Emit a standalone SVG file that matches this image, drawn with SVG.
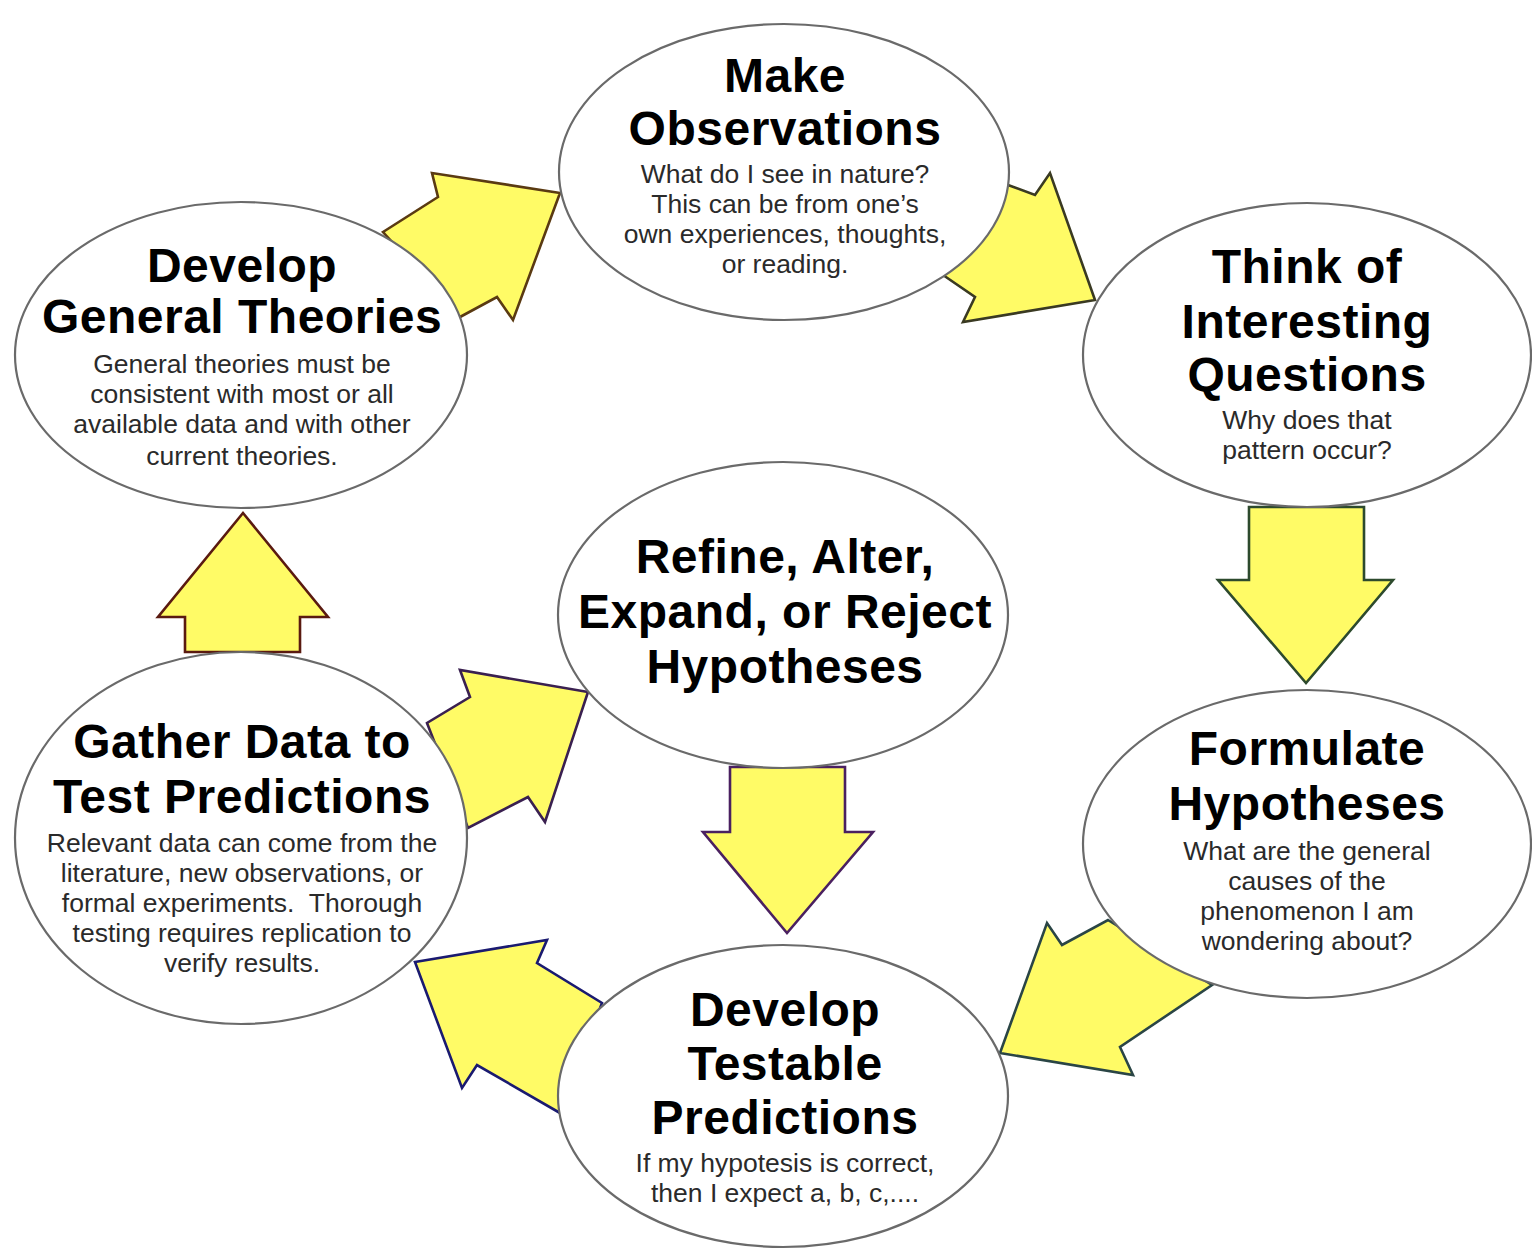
<svg xmlns="http://www.w3.org/2000/svg" width="1532" height="1250" viewBox="0 0 1532 1250">
<style>
.bg{fill:#ffffff}
.node ellipse{fill:#ffffff;stroke:#6a6a6a;stroke-width:2.2}
.t{font-family:"Liberation Sans",Arial,sans-serif;font-weight:bold;font-size:48px;fill:#000;text-anchor:middle;letter-spacing:0.5px}
.s{font-family:"Liberation Sans",Arial,sans-serif;font-size:26.5px;fill:#2a2a2a;text-anchor:middle}
.arr{fill:#FFFB66;stroke-width:2.6;stroke-linejoin:miter}
</style>
<rect class="bg" x="0" y="0" width="1532" height="1250"/>
<g id="connectors">
<polygon class="arr" stroke="#5a3a12" points="383,232 438,197 432,173 560,193 513,320 497,297 460,317"/>
<polygon class="arr" stroke="#3a3a22" points="1008,185 1035,195 1050,173 1095,300 963,322 975,297 943,275"/>
<polygon class="arr" stroke="#2d4a2d" points="1249,507 1364,507 1364,580 1393,580 1306,683 1218,580 1249,580"/>
<polygon class="arr" stroke="#2a4545" points="1108,920 1212,985 1120,1047 1133,1075 1000,1053 1047,923 1062,945"/>
<polygon class="arr" stroke="#1a1a70" points="547,940 537,963 602,1003 560,1113 477,1065 462,1088 415,962"/>
<polygon class="arr" stroke="#3a2050" points="460,670 470,697 427,723 468,828 528,797 545,822 588,692"/>
<polygon class="arr" stroke="#4a2060" points="730,767 845,767 845,832 873,832 787,933 703,832 730,832"/>
<polygon class="arr" stroke="#5a1a10" points="243,513 328,617 300,617 300,652 185,652 185,617 158,617"/>
</g>
<g id="node-observations" class="node">
<ellipse cx="784" cy="172" rx="225" ry="148"/>
<text class="t" x="785" y="92">Make</text>
<text class="t" x="785" y="145">Observations</text>
<text class="s" x="785" y="183">What do I see in nature?</text>
<text class="s" x="785" y="213">This can be from one’s</text>
<text class="s" x="785" y="243">own experiences, thoughts,</text>
<text class="s" x="785" y="273">or reading.</text>
</g>
<g id="node-questions" class="node">
<ellipse cx="1307" cy="355" rx="224" ry="152"/>
<text class="t" x="1307" y="283">Think of</text>
<text class="t" x="1307" y="338">Interesting</text>
<text class="t" x="1307" y="391">Questions</text>
<text class="s" x="1307" y="429">Why does that</text>
<text class="s" x="1307" y="459">pattern occur?</text>
</g>
<g id="node-hypotheses" class="node">
<ellipse cx="1307" cy="844" rx="224" ry="154"/>
<text class="t" x="1307" y="765">Formulate</text>
<text class="t" x="1307" y="820">Hypotheses</text>
<text class="s" x="1307" y="860">What are the general</text>
<text class="s" x="1307" y="890">causes of the</text>
<text class="s" x="1307" y="920">phenomenon I am</text>
<text class="s" x="1307" y="950">wondering about?</text>
</g>
<g id="node-predictions" class="node">
<ellipse cx="783" cy="1096" rx="225" ry="151"/>
<text class="t" x="785" y="1026">Develop</text>
<text class="t" x="785" y="1080">Testable</text>
<text class="t" x="785" y="1134">Predictions</text>
<text class="s" x="785" y="1172">If my hypotesis is correct,</text>
<text class="s" x="785" y="1202">then I expect a, b, c,....</text>
</g>
<g id="node-gather" class="node">
<ellipse cx="241" cy="838" rx="226" ry="186"/>
<text class="t" x="242" y="758">Gather Data to</text>
<text class="t" x="242" y="813">Test Predictions</text>
<text class="s" x="242" y="852">Relevant data can come from the</text>
<text class="s" x="242" y="882">literature, new observations, or</text>
<text class="s" x="242" y="912">formal experiments.&#160; Thorough</text>
<text class="s" x="242" y="942">testing requires replication to</text>
<text class="s" x="242" y="972">verify results.</text>
</g>
<g id="node-theories" class="node">
<ellipse cx="241" cy="355" rx="226" ry="153"/>
<text class="t" x="242" y="282">Develop</text>
<text class="t" x="242" y="333">General Theories</text>
<text class="s" x="242" y="373">General theories must be</text>
<text class="s" x="242" y="403">consistent with most or all</text>
<text class="s" x="242" y="433">available data and with other</text>
<text class="s" x="242" y="465">current theories.</text>
</g>
<g id="node-refine" class="node">
<ellipse cx="783" cy="615" rx="225" ry="153"/>
<text class="t" x="785" y="573">Refine, Alter,</text>
<text class="t" x="785" y="628">Expand, or Reject</text>
<text class="t" x="785" y="683">Hypotheses</text>
</g>
</svg>
